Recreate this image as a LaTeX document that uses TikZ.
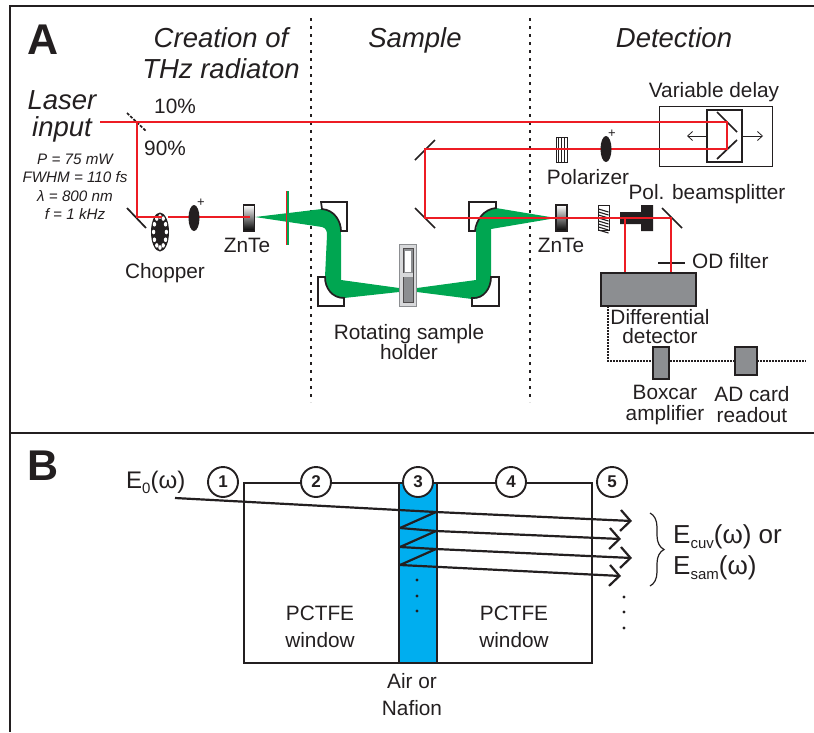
\documentclass[tikz,border=0pt]{standalone}
\usepackage{fontspec}
\setmainfont{Liberation Sans}
\usetikzlibrary{arrows.meta, shapes.geometric, decorations.pathreplacing}
\definecolor{cInk}{RGB}{35,31,32}
\definecolor{cRed}{RGB}{237,28,36}
\definecolor{cGreen}{RGB}{0,166,81}
\definecolor{cBlue}{RGB}{0,174,239}
\definecolor{cGray}{RGB}{140,142,145}
\definecolor{cLight}{RGB}{215,216,218}
\newcommand{\subtxt}[1]{\raisebox{-5pt}{\fontsize{15}{15}\selectfont #1}}

\begin{document}
\begin{tikzpicture}[
  x=1pt, y=-1pt, color=cInk, text=cInk,
  lbl/.style={inner sep=0pt, align=center, font=\fontsize{20.8}{21}\selectfont},
  head/.style={inner sep=0pt, align=center, font=\fontsize{27.5}{31}\selectfont\itshape},
  panel/.style={inner sep=0pt, font=\fontsize{43}{43}\selectfont\bfseries},
  spec/.style={inner sep=0pt, font=\fontsize{15.2}{15.2}\selectfont\itshape},
  field/.style={inner sep=0pt, anchor=base west, font=\fontsize{26}{26}\selectfont},
  beam/.style={draw=cRed, line width=1.8pt},
  mirror/.style={draw=cInk, line width=1.7pt},
  frame/.style={draw=cInk, line width=1.6pt},
  divider/.style={draw=cInk, line width=1.6pt, dash pattern=on 3pt off 5pt},
  signal/.style={draw=cInk, line width=1.2pt, dash pattern=on 1.5pt off 1.5pt},
  lens/.style={ellipse, fill=cInk, inner sep=0pt, minimum width=11pt, minimum height=26pt},
  crystal/.style={draw=cInk, line width=1.2pt, inner sep=0pt, minimum width=11pt, minimum height=26pt,
                  shade, top color=white, middle color=black!15, bottom color=black},
  plate/.style={draw=cInk, line width=1pt, fill=white, inner sep=0pt, minimum width=11pt, minimum height=25pt},
  unit/.style={draw=cInk, line width=1.8pt, fill=cGray, inner sep=0pt},
  num/.style={circle, draw=cInk, line width=1.9pt, fill=white, inner sep=0pt, minimum size=30pt,
              font=\fontsize{17}{17}\selectfont\bfseries},
  ray/.style={draw=cInk, line width=2.2pt},
  rayend/.style={ray, -{Straight Barb[length=10pt, width=21pt, line width=2.2pt]}},
  dotmark/.style={circle, fill=cInk, inner sep=0pt, minimum size=3.2pt}
]
\useasboundingbox (0,0) rectangle (814,732);

%% Frame
\draw[frame] (814,6) -- (10,6) -- (10,732);
\draw[frame] (10,433) -- (814,433);
\draw[divider] (311,18) -- (311,402);
\draw[divider] (530,18) -- (530,402);

%% PANEL A headings
\node[panel] (lab_a) at (43,40) {A};
\node[head] (h_creation) at (221,53.5) {Creation of\\THz radiaton};
\node[head] (h_sample) at (415,40) {Sample};
\node[head] (h_detect) at (674,38) {Detection};
\node[head, font=\fontsize{27.5}{27}\selectfont\itshape] (h_laser) at (62,116.5) {Laser\\input};
\node[spec] (s_p) at (75,159) {P = 75 mW};
\node[spec] (s_f) at (75,177) {FWHM = 110 fs};
\node[spec] (s_l) at (75,196) {λ = 800 nm};
\node[spec] (s_r) at (75,214) {f = 1 kHz};
\node[lbl] (t_ten) at (175,106) {10\%};
\node[lbl] (t_ninety) at (165,148) {90\%};

%% THz beam
\fill[cGreen] (255,217) -- (322,209) .. controls (335,210) and (341,222) .. (341,235)
  -- (341,280) -- (399,288) -- (399,292) -- (344,298)
  .. controls (332,298) and (325,288) .. (325,277) -- (327,235)
  .. controls (327,231) and (326,228) .. (322,227) -- cycle;
\fill[cGreen] (556,218) -- (496,208) .. controls (484,209) and (476,220) .. (476,231)
  -- (476,280) -- (417,288) -- (417,292) -- (472,299)
  .. controls (484,299) and (491,288) .. (491,277) -- (491,229) -- cycle;

%% Parabolic mirrors
\draw[mirror] (322,209) .. controls (335,210) and (341,222) .. (341,231) -- (347,231) -- (347,202) -- (321,202) -- cycle;
\draw[mirror] (325,277) .. controls (325,288) and (332,298) .. (344,298) -- (344,306) -- (318,306) -- (318,277) -- cycle;
\draw[mirror] (496,208) .. controls (484,209) and (476,220) .. (475,231) -- (469,231) -- (469,202) -- (496,202) -- cycle;
\draw[mirror] (491,277) .. controls (491,288) and (484,299) .. (472,298) -- (472,306) -- (499,306) -- (499,277) -- cycle;

%% Sample holder
\node[draw=cGray, line width=1pt, fill=cLight, inner sep=0pt, minimum width=17pt, minimum height=62pt] (holder) at (408,275) {};
\node[draw=cInk!80, line width=1pt, fill=cGray, inner sep=0pt, minimum width=10pt, minimum height=54pt] (holder_in) at (408,275) {};
\node[fill=white, inner sep=0pt, minimum width=6pt, minimum height=21pt] (holder_win) at (408,261.5) {};
\node[fill=cLight, inner sep=0pt, minimum width=10pt, minimum height=4pt] (holder_bar) at (408,274.5) {};
\node[lbl, font=\fontsize{20.8}{19}\selectfont] (t_holder) at (409,342) {Rotating sample\\holder};

%% Optics on the pump arm
\node[ellipse, fill=cInk, inner sep=0pt, minimum width=18pt, minimum height=39pt] (chopper) at (160,232) {};
\foreach \a in {0,30,...,330} {
  \fill[white] ({160+6.4*cos(\a)},{232+15.5*sin(\a)}) ellipse (1.7 and 2.3);
}
\node[lbl] (t_chopper) at (165,273) {Chopper};
\node[crystal] (znte_a) at (249,218) {};
\node[lbl] (t_znte_a) at (247,245) {ZnTe};
\coordinate (bs) at (137,122);
\coordinate (laser_in) at (100,122);
\coordinate (fold_a) at (137,217);
\coordinate (chop_in) at (162,217);
\coordinate (chop_out) at (168,217);
\coordinate (znte_end) at (250,217);
\coordinate (filter_top) at (286.5,191);
\coordinate (filter_bot) at (286.5,245);
\draw[mirror, dash pattern=on 3pt off 1.5pt] (127,113) -- (146,131);
\draw[mirror] (127,208) -- (146,228);
\draw[beam] (bs) -- (fold_a) -- (chop_in);
\draw[beam] (chop_out) -- (znte_end);
\node[lens] (lens_a) at (194,218) {};
\node[lbl] (t_plus_a) at (201,203) {\fontsize{13}{13}\selectfont +};
\draw[draw=cGreen, line width=1.5pt] (288,191) -- (288,245);
\draw[beam] (filter_top) -- (filter_bot);

%% Probe arm
\node[draw=cInk, line width=1pt, inner sep=0pt, minimum width=113pt, minimum height=60pt] (stage) at (715.5,136) {};
\node[draw=cInk, line width=1.2pt, inner sep=0pt, minimum width=35pt, minimum height=52pt] (carriage) at (724.5,136) {};
\node[lbl] (t_delay) at (714,92) {Variable delay};
\coordinate (move_l) at (687,136);
\coordinate (move_r) at (763,136);
\draw[draw=cInk, line width=.8pt, -{Straight Barb[length=5pt, width=9pt]}] (carriage.west) -- (move_l);
\draw[draw=cInk, line width=.8pt, -{Straight Barb[length=5pt, width=9pt]}] (carriage.east) -- (move_r);
\coordinate (delay_a) at (727,122);
\coordinate (delay_b) at (727,149);
\coordinate (fold_b) at (425,149);
\coordinate (fold_c) at (425,218);
\coordinate (fold_d) at (671,218);
\coordinate (pbs_out) at (625,218);
\draw[mirror] (717,112) -- (737,132);
\draw[mirror] (737,140) -- (717,159);
\draw[mirror] (415,160) -- (435,140);
\draw[mirror] (415,208) -- (435,228);
\draw[mirror] (662,208) -- (682,228);
\node[plate] (polarizer) at (561.5,149.5) {};
\foreach \x in {558.5,561.5,564.5} {\draw[line width=.8pt] (\x,137) -- (\x,162);}
\node[lbl] (t_polarizer) at (588,177) {Polarizer};
\node[crystal] (znte_b) at (561.5,218) {};
\node[lbl] (t_znte_b) at (561,245) {ZnTe};
\node[plate] (waveplate) at (603.5,218) {};
\foreach \y in {209,212,...,230} {\draw[line width=1.1pt] (598.5,\y) -- (608.5,\y+3);}
\fill[cInk] (620,212) -- (641,212) -- (641,205) -- (653,205) -- (653,231) -- (641,231) -- (641,224) -- (620,224) -- cycle;
\node[lbl] (t_pbs) at (707,194) {Pol. beamsplitter};
\draw[mirror] (658,263) -- (685,263);
\node[lbl, anchor=west] (t_od) at (692,261) {OD filter};

%% Detection electronics
\node[unit, minimum width=95pt, minimum height=33pt] (detector) at (648.5,289.5) {};
\node[lbl, font=\fontsize{20.8}{19}\selectfont] (t_detector) at (660,327) {Differential\\detector};
\coordinate (sig_a) at (608,306);
\coordinate (sig_b) at (608,361);
\coordinate (sig_c) at (806,361);
\draw[signal] (sig_a) -- (sig_b) -- (sig_c);
\node[unit, minimum width=16pt, minimum height=32pt] (boxcar) at (661,363) {};
\node[unit, minimum width=22pt, minimum height=28pt] (adcard) at (746,361) {};
\node[lbl] (t_boxcar) at (665,405) {Boxcar\\amplifier};
\node[lbl] (t_adcard) at (752,405) {AD card\\readout};

%% Red beams
\draw[beam] (laser_in) -- (delay_a) -- (delay_b) -- (fold_b) -- (fold_c) -- (fold_d) -- (detector.north -| fold_d);
\draw[beam] (pbs_out) -- (detector.north -| pbs_out);
\node[lens] (lens_b) at (606,149) {};
\node[lbl] (t_plus_b) at (612,134) {\fontsize{13}{13}\selectfont +};

%% PANEL B
\node[panel] (lab_b) at (43,466) {B};
\node[draw=cInk, line width=1.6pt, inner sep=0pt, minimum width=348pt, minimum height=180pt] (cell) at (418,573) {};
\node[draw=cInk, line width=1.6pt, fill=cBlue, inner sep=0pt, minimum width=38pt, minimum height=180pt] (layer) at (418,573) {};
\node[num] (n_one) at (223,482) {1};
\node[num] (n_two) at (316,482) {2};
\node[num] (n_three) at (418,482) {3};
\node[num] (n_four) at (511,482) {4};
\node[num] (n_five) at (612,482) {5};

\node[field, font=\fontsize{24}{24}\selectfont] (t_e_zero) at (126,488) {E\subtxt{0}(ω)};
\node[lbl, font=\fontsize{20.8}{27}\selectfont] (t_win_a) at (320,627) {PCTFE\\window};
\node[lbl, font=\fontsize{20.8}{27}\selectfont] (t_win_b) at (514,627) {PCTFE\\window};
\node[lbl, font=\fontsize{20.8}{27}\selectfont] (t_nafion) at (412,695) {Air or\\Nafion};

%% Rays through the layer
\coordinate (in_pt) at (175,498);
\coordinate (r_a) at (436,512);
\coordinate (l_a) at (400,528);
\coordinate (r_b) at (436,531);
\coordinate (l_b) at (400,547);
\coordinate (r_c) at (436,549);
\coordinate (l_c) at (400,565);
\coordinate (tip_a) at (632,521);
\coordinate (tip_b) at (621,539);
\coordinate (tip_c) at (632,558);
\coordinate (tip_d) at (621,576);
\draw[rayend] (in_pt) -- (r_a) -- (tip_a);
\draw[ray] (r_a) -- (l_a);
\draw[rayend] (l_a) -- (r_b) -- (tip_b);
\draw[ray] (r_b) -- (l_b);
\draw[rayend] (l_b) -- (r_c) -- (tip_c);
\draw[ray] (r_c) -- (l_c);
\draw[rayend] (l_c) -- (tip_d);

\foreach \y [count=\i] in {580,596,611} {\node[dotmark] (d_in\i) at (417,\y) {};}
\foreach \y [count=\i] in {597,612,628} {\node[dotmark] (d_out\i) at (624,\y) {};}

%% Output label
\coordinate (brace_top) at (650,513);
\coordinate (brace_bot) at (650,586);
\draw[draw=cInk, line width=1.2pt, decorate, decoration={brace, amplitude=14pt, aspect=.5}] (brace_top) -- (brace_bot);
\node[field] (t_e_cuv) at (673,543) {E\subtxt{cuv}(ω) or};
\node[field] (t_e_sam) at (673,574) {E\subtxt{sam}(ω)};

\end{tikzpicture}
\end{document}
